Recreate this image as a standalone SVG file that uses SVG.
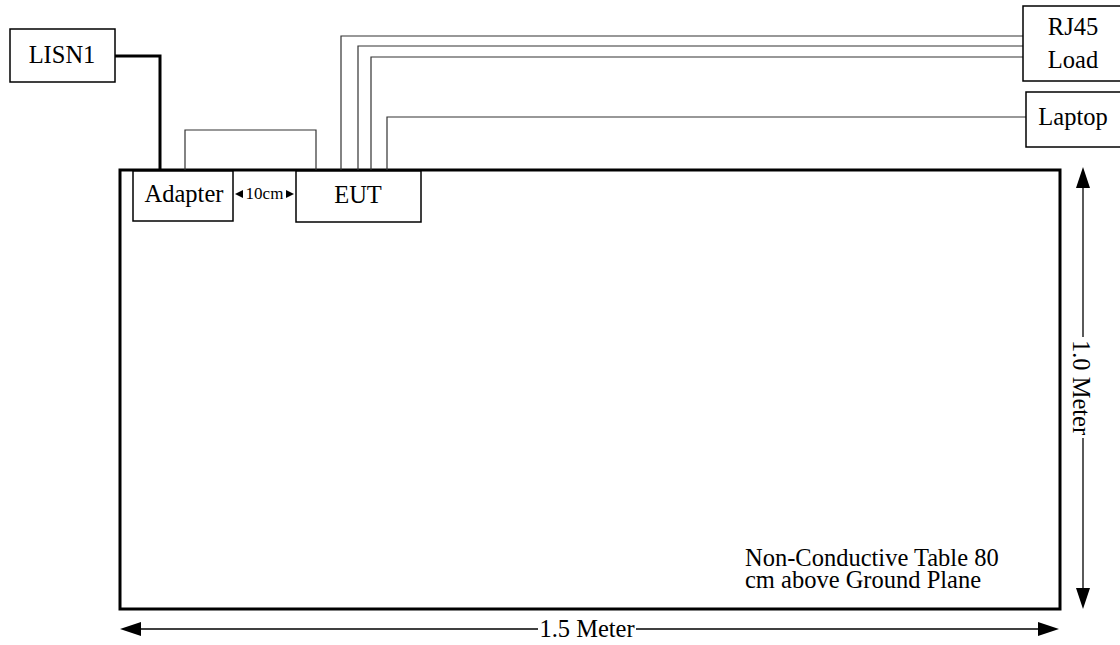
<svg xmlns="http://www.w3.org/2000/svg" width="1120" height="645" viewBox="0 0 1120 645">
<style>
  text { font-family: "Liberation Serif", "Times New Roman", serif; fill: #000; }
  .lbl { font-size: 24.5px; text-anchor: middle; }
  .note { font-size: 24.5px; }
  .box { fill: #fff; stroke: #000; stroke-width: 1.5; }
  .thin { fill: none; stroke: #333; stroke-width: 1.2; }
  .thick { fill: none; stroke: #000; stroke-width: 3; }
  .dim { fill: none; stroke: #000; stroke-width: 1.3; }
  .head { fill: #000; stroke: none; }
</style>
<rect width="1120" height="645" fill="#fff"/>
<g id="table">
  <rect x="120" y="170" width="940" height="439" fill="none" stroke="#000" stroke-width="3"/>
  <text class="note" x="745" y="566" font-family="Liberation Serif, serif">Non-Conductive Table 80</text>
  <text class="note" x="745" y="588" font-family="Liberation Serif, serif">cm above Ground Plane</text>
</g>
<g id="connectors">
  <polyline class="thick" points="115,56 160,56 160,170"/>
  <polyline class="thin" points="185,170 185,130 316,130 316,170"/>
  <polyline class="thin" points="341,170 341,36 1023,36"/>
  <polyline class="thin" points="358,170 358,46 1023,46"/>
  <polyline class="thin" points="371,170 371,57 1023,57"/>
  <polyline class="thin" points="387,170 387,117 1026,117"/>
</g>
<g id="lisn1">
  <rect class="box" x="10" y="29" width="105" height="53"/>
  <text class="lbl" x="62" y="63">LISN1</text>
</g>
<g id="adapter">
  <rect class="box" x="133" y="171" width="100" height="50"/>
  <text class="lbl" x="184" y="202">Adapter</text>
</g>
<g id="eut">
  <rect class="box" x="296" y="171" width="125" height="51"/>
  <text class="lbl" x="358" y="203">EUT</text>
</g>
<g id="spacing">
  <polygon class="head" points="235,194 243,190 243,198"/>
  <polygon class="head" points="294,194 286,190 286,198"/>
  <text x="264.5" y="199" style="font-size:17px" text-anchor="middle">10cm</text>
</g>
<g id="rj45">
  <rect class="box" x="1023" y="6" width="102" height="75"/>
  <text class="lbl" x="1073" y="35">RJ45</text>
  <text class="lbl" x="1073" y="68">Load</text>
</g>
<g id="laptop">
  <rect class="box" x="1026" y="92" width="99" height="55"/>
  <text class="lbl" x="1073" y="125">Laptop</text>
</g>
<g id="dim-height">
  <line class="dim" x1="1083" y1="185" x2="1083" y2="337"/>
  <line class="dim" x1="1083" y1="438" x2="1083" y2="592"/>
  <polygon class="head" points="1083,167 1076,188 1090,188"/>
  <polygon class="head" points="1083,609 1076,588 1090,588"/>
  <text class="lbl" transform="translate(1073,387.5) rotate(90)" x="0" y="0">1.0 Meter</text>
</g>
<g id="dim-width">
  <line class="dim" x1="138" y1="629" x2="538" y2="629"/>
  <line class="dim" x1="636" y1="629" x2="1042" y2="629"/>
  <polygon class="head" points="120,629 141,622 141,636"/>
  <polygon class="head" points="1059,629 1038,622 1038,636"/>
  <text class="lbl" x="587" y="637">1.5 Meter</text>
</g>
</svg>
